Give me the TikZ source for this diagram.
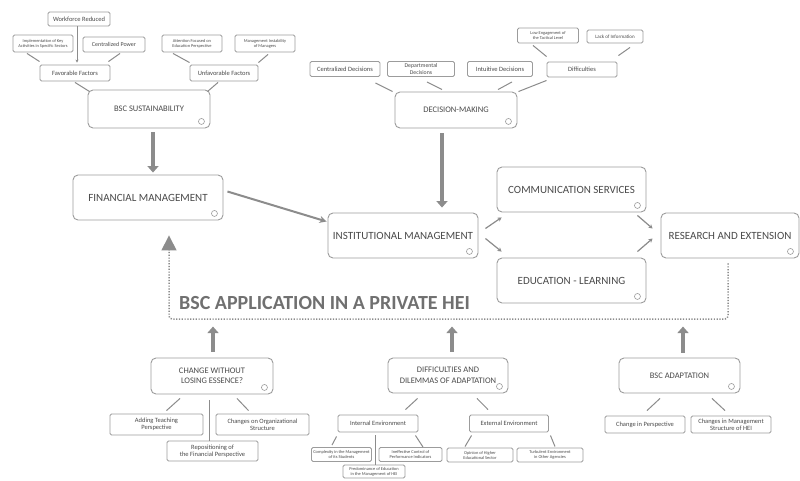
\documentclass[tikz,border=0pt]{standalone}
\usepackage{fontspec}
\setmainfont{Carlito}
\usetikzlibrary{arrows.meta,calc}
\definecolor{tx}{HTML}{4A4A4A}
\definecolor{bd}{HTML}{9C9C9C}
\definecolor{ln}{HTML}{8C8C8C}
\definecolor{ttl}{HTML}{707070}
\tikzset{
  box/.style={draw=bd, line width=0.9pt, rounded corners=1.5pt, inner sep=0pt, align=center, text=tx},
  big/.style={box, rounded corners=5pt, font=\fontsize{11}{13}\selectfont},
  lvl/.style={box, rounded corners=5pt, font=\fontsize{8.5}{10.5}\selectfont},
  sm/.style={box, font=\fontsize{6.5}{7.3}\selectfont},
  tiny/.style={box, font=\fontsize{4.4}{5}\selectfont},
  conn/.style={draw=ln, line width=1pt},
  smarrow/.style={draw=ln, line width=1.2pt, -{Stealth[length=4pt,width=4.5pt]}},
  fat/.style={draw=ln, line width=3.5pt, -{Triangle[width=11pt,length=6.5pt]}},
  dotfr/.style={draw=ln, line width=1.5pt, dash pattern=on 1.2pt off 1.6pt},
  icon/.style={draw=bd, line width=0.6pt, fill=white},
  ttlstyle/.style={text=ttl, font=\fontsize{20}{24}\selectfont\bfseries, inner sep=0pt, anchor=west}
}
\begin{document}
\begin{tikzpicture}[x=1pt,y=-1pt]
\useasboundingbox (0,0) rectangle (800,480);
\fill[white] (0,0) rectangle (800,480);

% ---- top left cluster
\node[sm, minimum width=62, minimum height=14] (wf) at (79,19) {Workforce Reduced};
\node[tiny, minimum width=60, minimum height=17] (impl) at (43,43.5) {Implementation of Key\\Activities in Specific Sectors};
\node[sm, font=\fontsize{6}{7}\selectfont, minimum width=62, minimum height=15] (cp) at (114,44.5) {Centralized Power};
\node[sm, minimum width=70, minimum height=16] (fav) at (75,73) {Favorable Factors};
\node[tiny, minimum width=60, minimum height=17] (att) at (192,43.5) {Attention Focused on\\Education Perspective};
\node[tiny, minimum width=60, minimum height=17] (mim) at (265,43.5) {Management Instability\\of Managers};
\node[sm, minimum width=68, minimum height=16] (unf) at (224,73) {Unfavorable Factors};
\node[lvl, minimum width=122, minimum height=38] (bsc) at (149,109) {BSC SUSTAINABILITY};

% ---- top right cluster
\node[sm, minimum width=70, minimum height=15] (cd) at (345,69) {Centralized Decisions};
\node[sm, font=\fontsize{5.8}{6.2}\selectfont, minimum width=67, minimum height=15] (dd) at (421,69) {Departmental\\Decisions};
\node[sm, minimum width=65, minimum height=15] (id) at (500,69) {Intuitive Decisions};
\node[sm, minimum width=70, minimum height=15] (dif) at (582,69.5) {Difficulties};
\node[tiny, minimum width=61, minimum height=15] (low) at (548,35.5) {Low Engagement of\\the Tactical Level};
\node[tiny, font=\fontsize{5}{6}\selectfont, minimum width=56, minimum height=13] (lack) at (615,36.5) {Lack of Information};
\node[lvl, minimum width=122, minimum height=36] (dm) at (456,110) {DECISION-MAKING};

% ---- middle row
\node[big, minimum width=150, minimum height=45] (fin) at (148,197.5) {FINANCIAL MANAGEMENT};
\node[big, minimum width=150, minimum height=45] (inst) at (403,235.5) {INSTITUTIONAL MANAGEMENT};
\node[big, minimum width=149, minimum height=45] (comm) at (571.5,189.5) {COMMUNICATION SERVICES};
\node[big, minimum width=149, minimum height=45] (edu) at (571.5,280.5) {EDUCATION - LEARNING};
\node[big, minimum width=138, minimum height=45] (res) at (730,235.5) {RESEARCH AND EXTENSION};

\node[ttlstyle] (ttl) at (179,303.5) {BSC APPLICATION IN A PRIVATE HEI};

% ---- bottom clusters
\node[lvl, minimum width=122, minimum height=36] (chg) at (212,376) {CHANGE WITHOUT\\LOSING ESSENCE?};
\node[lvl, minimum width=120, minimum height=35] (ddil) at (448,375.5) {DIFFICULTIES AND\\DILEMMAS OF ADAPTATION};
\node[lvl, minimum width=121, minimum height=35] (bad) at (679.5,375.5) {BSC ADAPTATION};
\node[sm, minimum width=93, minimum height=21] (add) at (156.5,424.5) {Adding Teaching\\Perspective};
\node[sm, minimum width=93, minimum height=21] (cos) at (262.5,424.5) {Changes on Organizational\\Structure};
\node[sm, minimum width=91, minimum height=20] (rep) at (212.5,451) {Repositioning of\\the Financial Perspective};
\node[sm, minimum width=80, minimum height=17] (ie) at (378,423.5) {Internal Environment};
\node[sm, minimum width=79, minimum height=17] (ee) at (509,423.5) {External Environment};
\node[tiny, minimum width=60, minimum height=14] (cx) at (341.5,454.5) {Complexity in the Management\\of its Students};
\node[tiny, minimum width=63, minimum height=14] (ine) at (410.5,454.5) {Ineffective Control of\\Performance Indicators};
\node[tiny, minimum width=62, minimum height=13] (pre) at (374,471.5) {Predominance of Education\\in the Management of HEI};
\node[tiny, minimum width=66, minimum height=14] (op) at (480,455) {Opinion of Higher\\Educational Sector};
\node[tiny, minimum width=66, minimum height=14] (tu) at (550,455) {Turbulent Environment\\in Other Agencies};
\node[sm, minimum width=80, minimum height=17] (cip) at (645,424.5) {Change in Perspective};
\node[sm, minimum width=80, minimum height=17] (cms) at (731,424.5) {Changes in Management\\Structure of HEI};

% ---- icons
\foreach \n in {bsc,dm,fin,inst,comm,edu,res,chg,ddil,bad}
  \draw[icon] ($(\n.south east)+(-9,-7)$) circle (3pt);

% ---- top-left connectors
\draw[conn,-{Stealth[length=3pt,width=3pt]}] ($(wf.south)+(-2,0)$) -- ($(fav.north)+(2,-2)$);
\draw[conn] ($(impl.south)+(-16,1)$) -- ($(fav.north west)+(0,-3)$);
\draw[conn] ($(cp.south)+(6,1)$) -- ($(fav.north east)+(-2,-3)$);
\draw[conn] ($(fav.south)+(0,1)$) -- ($(bsc.north west)+(2,2)$);
\draw[conn] ($(unf.south)+(-6,1)$) -- ($(bsc.north east)+(-3,2)$);
\draw[conn] ($(att.south)+(-19,1)$) -- ($(unf.north west)+(0,-2)$);
\draw[conn] ($(mim.south)+(3,2)$) -- ($(unf.north east)+(0,-2)$);

% ---- top-right connectors
\draw[conn] ($(cd.south east)+(-5,6)$) -- ($(dm.north west)+(-2,0)$);
\draw[conn] ($(dd.south)+(6,5)$) -- ($(dm.north)+(-14,-2)$);
\draw[conn] ($(id.south)+(12,5)$) -- ($(dm.north)+(42,-2)$);
\draw[conn] ($(dif.south west)+(0,3)$) -- ($(dm.north east)+(1,0)$);
\draw[conn] ($(low.south)+(-15,2)$) -- ($(dif.north west)+(0,-5)$);
\draw[conn] ($(lack.south)+(15,4)$) -- ($(dif.north east)+(1,-6)$);

% ---- middle arrows
\draw[fat] ($(bsc.south)+(4,4)$) -- ($(fin.north)+(5,-2)$);
\draw[fat] ($(dm.south)+(-14,5)$) -- ($(inst.north)+(39,-5)$);
\draw[draw=ln, line width=2pt, -{Stealth[length=7pt,width=7pt]}] ($(fin.east)+(4,-6)$) -- ($(inst.west)+(-1,-14)$);
\draw[smarrow] ($(inst.east)+(7,-7)$) -- ($(comm.south west)+(5,5)$);
\draw[smarrow] ($(inst.east)+(7,3)$) -- ($(edu.north west)+(5,-6)$);
\draw[smarrow] ($(comm.south east)+(-9,3)$) -- ($(res.west)+(-8,-7)$);
\draw[smarrow] ($(edu.north east)+(-9,-6)$) -- ($(res.west)+(-8,3)$);

% ---- dotted frame
\coordinate (fl) at (169,319);
\draw[dotfr, rounded corners=3pt, -{Triangle[width=15pt,length=15pt]}] ($(res.south)+(-2,5)$) |- (fl) -- ($(fin.south)+(21,15)$);

% ---- bottom up arrows
\draw[fat] ($(chg.north)+(1,-6)$) -- ($(chg.north)+(1,-31)$);
\draw[fat] ($(ddil.north)+(4,-6)$) -- ($(ddil.north)+(4,-31)$);
\draw[fat] ($(bad.north)+(3.5,-5)$) -- ($(bad.north)+(3.5,-31)$);

% ---- bottom connectors
\draw[conn] ($(add.north)+(10,-3)$) -- ($(chg.south)+(-32,4)$);
\draw[conn] ($(rep.north)+(-3.5,0)$) -- ($(chg.south)+(-3,6)$);
\draw[conn] ($(cos.north)+(-14,-3)$) -- ($(chg.south)+(25,4)$);
\draw[conn] ($(ie.north east)+(-13,-5)$) -- ($(ddil.south west)+(30,5)$);
\draw[conn] ($(ee.north)+(-21,-5)$) -- ($(ddil.south)+(29,5)$);
\draw[conn] ($(cx.north)+(-9.5,-2)$) -- ($(ie.south west)+(-1,4)$);
\draw[conn] ($(pre.north)+(1,0)$) -- ($(ie.south)+(-3,3)$);
\draw[conn] ($(ine.north)+(12.5,0)$) -- ($(ie.south east)+(-3,3)$);
\draw[conn] ($(op.north)+(-15,-1)$) -- ($(ee.south west)+(2.5,3)$);
\draw[conn] ($(tu.north)+(5,-1)$) -- ($(ee.south east)+(1.5,3)$);
\draw[conn] ($(cip.north)+(2,-5)$) -- ($(bad.south)+(-19.5,5)$);
\draw[conn] ($(cms.north)+(-6,-5)$) -- ($(bad.south)+(32.5,5)$);
\end{tikzpicture}
\end{document}
